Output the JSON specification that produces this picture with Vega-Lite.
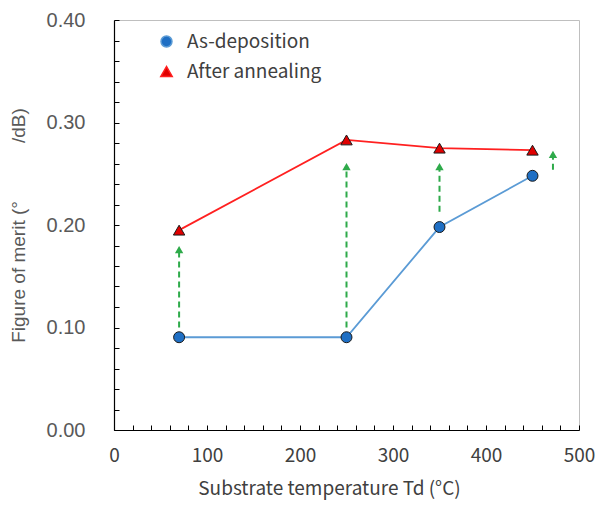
{
  "$schema": "https://vega.github.io/schema/vega-lite/v6.json",
  "autosize": {"type": "none"},
  "padding": {"left": 114, "top": 20, "right": 19, "bottom": 76},
  "width": 465,
  "height": 410,
  "background": "white",
  "config": {
    "view": {"stroke": "#bfbfbf", "strokeWidth": 1},
    "axis": {"grid": false, "domainColor": "#000000", "tickColor": "#000000", "domainWidth": 1.2, "tickWidth": 1, "labelOverlap": false, "labelFlush": false}
  },
  "datasets": {
    "series": [
      {"T": 70, "fom": 0.0905, "series": "As-deposition"},
      {"T": 250, "fom": 0.0905, "series": "As-deposition"},
      {"T": 350, "fom": 0.198, "series": "As-deposition"},
      {"T": 450, "fom": 0.248, "series": "As-deposition"},
      {"T": 70, "fom": 0.195, "series": "After annealing"},
      {"T": 250, "fom": 0.283, "series": "After annealing"},
      {"T": 350, "fom": 0.275, "series": "After annealing"},
      {"T": 450, "fom": 0.273, "series": "After annealing"}
    ],
    "arrows": [
      {"T": 70, "lo": 0.1, "head": 0.176},
      {"T": 250, "lo": 0.1, "head": 0.257},
      {"T": 350, "lo": 0.213, "head": 0.257},
      {"T": 472, "lo": 0.254, "head": 0.269}
    ]
  },
  "layer": [
    {
      "data": {"name": "arrows"},
      "mark": {"type": "rule", "color": "#2eaa4a", "strokeWidth": 2, "strokeDash": [6, 4]},
      "encoding": {
        "x": {
          "field": "T", "type": "quantitative",
          "scale": {"domain": [0, 500], "nice": false, "zero": false},
          "axis": {
            "values": [0,20,40,60,80,100,120,140,160,180,200,220,240,260,280,300,320,340,360,380,400,420,440,460,480,500],
            "tickCount": 40,
            "labelExpr": "datum.value % 100 === 0 ? datum.label : ''",
            "tickSize": -5,
            "labelPadding": 21,
            "labelFont": "Noto Sans CJK JP",
            "labelFontSize": 19,
            "labelColor": "#404040",
            "title": "Substrate temperature Td (°C)",
            "titleFont": "Noto Sans CJK JP",
            "titleFontSize": 19,
            "titleFontWeight": "normal",
            "titleColor": "#404040",
            "titlePadding": 14,
            "titleX": 215
          }
        },
        "y": {
          "field": "lo", "type": "quantitative",
          "scale": {"domain": [0, 0.4], "nice": false},
          "axis": {
            "values": [0,0.02,0.04,0.06,0.08,0.1,0.12,0.14,0.16,0.18,0.2,0.22,0.24,0.26,0.28,0.3,0.32,0.34,0.36,0.38,0.4],
            "tickCount": 40,
            "labelExpr": "abs(datum.value*10 - round(datum.value*10)) < 0.001 ? format(datum.value, '.2f') : ''",
            "tickSize": -5,
            "labelPadding": 34,
            "labelFont": "Liberation Sans",
            "labelFontSize": 20,
            "labelColor": "#595959",
            "title": "Figure of merit (°\u00a0\u00a0\u00a0\u00a0\u00a0\u00a0\u00a0\u00a0\u00a0\u00a0\u00a0/dB)",
            "titleFont": "Liberation Sans",
            "titleFontSize": 19,
            "titleFontWeight": "normal",
            "titleColor": "#595959",
            "titlePadding": 18
          }
        },
        "y2": {"field": "head"}
      }
    },
    {
      "data": {"name": "arrows"},
      "mark": {"type": "point", "shape": "triangle-up", "filled": true, "color": "#2eaa4a", "size": 70, "opacity": 1},
      "encoding": {
        "x": {"field": "T", "type": "quantitative"},
        "y": {"field": "head", "type": "quantitative"}
      }
    },
    {
      "data": {"name": "series"},
      "mark": {"type": "line", "strokeWidth": 1.8},
      "encoding": {
        "x": {"field": "T", "type": "quantitative"},
        "y": {"field": "fom", "type": "quantitative"},
        "stroke": {
          "field": "series", "type": "nominal",
          "scale": {"domain": ["As-deposition", "After annealing"], "range": ["#5b9bd5", "#ff2020"]},
          "legend": {
            "orient": "none",
            "legendX": 43,
            "legendY": 12,
            "title": null,
            "symbolSize": 110,
            "labelFont": "Noto Sans CJK JP",
            "labelFontSize": 19,
            "labelColor": "#404040",
            "labelOffset": 11,
            "rowPadding": 10,
            "symbolStrokeWidth": 1.5
          }
        }
      }
    },
    {
      "data": {"name": "series"},
      "mark": {"type": "point", "filled": true, "stroke": "#1a1a1a", "strokeWidth": 1, "opacity": 1},
      "encoding": {
        "x": {"field": "T", "type": "quantitative"},
        "y": {"field": "fom", "type": "quantitative"},
        "fill": {
          "field": "series", "type": "nominal",
          "scale": {"domain": ["As-deposition", "After annealing"], "range": ["#1f6fc4", "#e00000"]},
          "legend": null
        },
        "shape": {
          "field": "series", "type": "nominal",
          "scale": {"domain": ["As-deposition", "After annealing"], "range": ["circle", "triangle-up"]},
          "legend": null
        },
        "size": {
          "field": "series", "type": "nominal",
          "scale": {"domain": ["As-deposition", "After annealing"], "range": [120, 130]},
          "legend": null
        }
      }
    }
  ]
}
